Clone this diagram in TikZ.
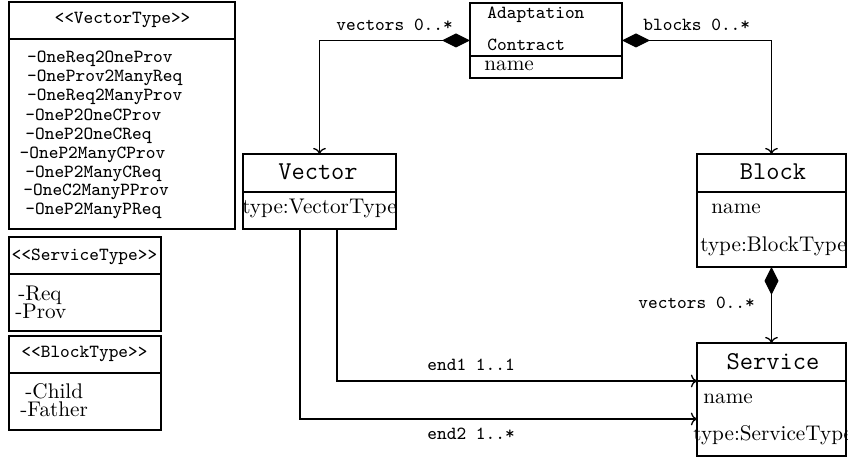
\documentclass[tikz,border=0pt]{standalone}
\usetikzlibrary{arrows.meta,calc}
% stereotype brackets kept apart so they are not turned into guillemets
\newcommand\stopen{<\kern0pt<}
\newcommand\stclose{>\kern0pt>}
\newcommand\smalltt{\fontsize{9.24}{9.24}\selectfont\ttfamily}
\newcommand\headtt{\fontsize{12.86}{13}\selectfont\ttfamily}
\newcommand\attr{\fontsize{10.6}{11}\selectfont\rmfamily}
\begin{document}
\begin{tikzpicture}[x=0.5pt,y=-0.5pt,
  box/.style={draw,line width=1.25pt,inner sep=0,outer sep=0},
  divider/.style={line width=1.25pt},
  conn/.style={line width=0.65pt},
  compo/.style={conn,{Diamond[length=14pt,width=7pt]}-{To}},
  assoc/.style={conn,-{To}},
  ttl/.style={inner sep=0,anchor=base west,font=\smalltt},
  ttc/.style={inner sep=0,anchor=base,font=\smalltt},
  head/.style={inner sep=0,anchor=base,font=\headtt},
  attrl/.style={inner sep=0,anchor=base west,font=\attr},
  attrc/.style={inner sep=0,anchor=base,font=\attr}]
\useasboundingbox (0,0) rectangle (848,458);

% ---- enumeration VectorType ----
\node[ttc] (vtH) at (122.5,24) {\stopen VectorType\stclose};
\node[ttl] (vt1) at (26.7,63) {-OneReq2OneProv};
\node[ttl] (vt2) at (26.7,82) {-OneProv2ManyReq};
\node[ttl] (vt3) at (26.7,101) {-OneReq2ManyProv};
\node[ttl] (vt4) at (25,121) {-OneP2OneCProv};
\node[ttl] (vt5) at (25,140) {-OneP2OneCReq};
\node[ttl] (vt6) at (19.3,159) {-OneP2ManyCProv};
\node[ttl] (vt7) at (25,178) {-OneP2ManyCReq};
\node[ttl] (vt8) at (23,196) {-OneC2ManyPProv};
\node[ttl] (vt9) at (25,215) {-OneP2ManyPReq};
\node[box,minimum width=113pt,minimum height=113.5pt] (vt) at (122,115.5) {};
\draw[divider] (9,39) -- (235,39);

% ---- enumeration ServiceType ----
\node[ttc] (stH) at (84.5,260.7) {\stopen ServiceType\stclose};
\node[attrl] (st1) at (18,300.7) {-Req};
\node[attrl] (st2) at (15,319) {-Prov};
\node[box,minimum width=76pt,minimum height=47pt] (st) at (85,284) {};
\draw[divider] (9,274) -- (161,274);

% ---- enumeration BlockType ----
\node[ttc] (btH) at (84.5,358) {\stopen BlockType\stclose};
\node[attrl] (bt1) at (25,399) {-Child};
\node[attrl] (bt2) at (20,417) {-Father};
\node[box,minimum width=76pt,minimum height=47pt] (bt) at (85,383) {};
\draw[divider] (9,373) -- (161,373);

% ---- class Adaptation Contract ----
\node[ttl] (acH1) at (487,19) {Adaptation};
\node[ttl] (acH2) at (487,50.7) {Contract};
\node[attrl] (acA) at (484,70.7) {name};
\node[box,minimum width=76pt,minimum height=37.5pt] (ac) at (546,40.5) {};
\draw[divider] (470,56) -- (622,56);

% ---- class Vector ----
\node[head] (vecH) at (318,179.3) {Vector};
\node[attrc] (vecA) at (319.5,214) {type:VectorType};
\node[box,minimum width=76.5pt,minimum height=37.5pt] (vec) at (319.5,191.5) {};
\draw[divider] (243,192) -- (396,192);

% ---- class Block ----
\node[head] (blkH) at (773,179.3) {Block};
\node[attrl] (blkA1) at (711,214) {name};
\node[attrl] (blkA2) at (700,251.7) {type:BlockType};
\node[box,minimum width=74.5pt,minimum height=56.5pt] (blk) at (771.5,210.5) {};
\draw[divider] (697,192) -- (846,192);

% ---- class Service ----
\node[head] (svcH) at (773,370) {Service};
\node[attrl] (svcA1) at (703,403.3) {name};
\node[attrl] (svcA2) at (693,440.7) {type:ServiceType};
\node[box,minimum width=74.5pt,minimum height=56.5pt] (svc) at (771.5,399.5) {};
\draw[divider] (697,381) -- (846,381);

% ---- associations ----
\draw[compo] (ac.west) -| (vec.north);
\draw[compo] (ac.east) -| (blk.north);
\draw[compo] (blk.south) -- (svc.north);
\draw[assoc] ($(vec.south)+(17.5,0)$) |- ($(svc.west)+(0,-18.5)$);
\draw[assoc] ($(vec.south)+(-19.5,0)$) |- ($(svc.west)+(0,19.5)$);

% ---- role labels ----
\node[ttl] (r1) at (336,30.7) {vectors 0..*};
\node[ttl] (r2) at (643,30.7) {blocks 0..*};
\node[ttl] (r3) at (638,309) {vectors 0..*};
\node[ttl] (r4) at (427,371) {end1 1..1};
\node[ttl] (r5) at (427,440) {end2 1..*};
\end{tikzpicture}
\end{document}
